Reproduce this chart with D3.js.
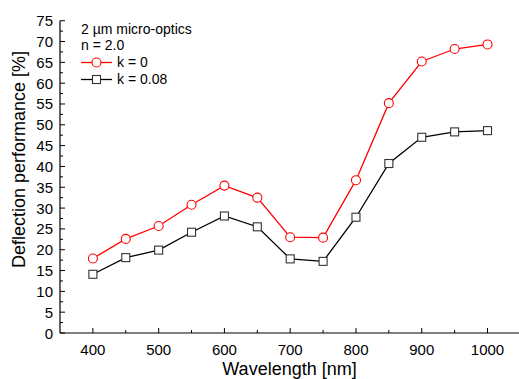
<!DOCTYPE html>
<html><head><meta charset="utf-8">
<script src="https://cdn.jsdelivr.net/npm/d3@7"></script>
<style>body{margin:0;background:#fff}svg{display:block;font-family:"Liberation Sans",Arial,sans-serif}</style>
</head><body><svg id="c" width="519" height="379"></svg>
<script>
const wavelengths = [400,450,500,550,600,650,700,750,800,850,900,950,1000];
const k0 = [17.9,22.6,25.7,30.8,35.4,32.5,23.0,22.9,36.7,55.2,65.2,68.2,69.3];
const k008 = [14.1,18.1,19.9,24.2,28.1,25.5,17.8,17.2,27.8,40.7,47.0,48.3,48.6];
const xTicks = [400,500,600,700,800,900,1000];
const yTicks = [0,5,10,15,20,25,30,35,40,45,50,55,60,65,70,75];
const legendTitle = ["2 µm micro-optics","n = 2.0"];
const seriesNames = ["k = 0","k = 0.08"];

const svg = d3.select("#c");
const x = d3.scaleLinear().domain([350,1050]).range([60,520.4]);
const y = d3.scaleLinear().domain([0,75]).range([333,20.7]);

// axes
const xAxis = svg.append("g").attr("transform","translate(0,333)");
xAxis.append("line").attr("x1",60).attr("x2",519).attr("stroke","#000").attr("stroke-width",1.2);
d3.range(400,1050,50).forEach(v=>{
  const major = v%100===0;
  xAxis.append("line").attr("x1",x(v)).attr("x2",x(v)).attr("y1",0).attr("y2",major?-5:-3).attr("stroke","#000");
});
xAxis.selectAll("text.t").data(xTicks).join("text").attr("x",d=>x(d)).attr("y",22)
  .attr("text-anchor","middle").attr("font-size",15).text(d=>d);

const yAxis = svg.append("g").attr("transform","translate(60,0)");
yAxis.append("line").attr("y1",y(0)).attr("y2",y(75)).attr("stroke","#000").attr("stroke-width",1.2);
d3.range(0,75.1,2.5).forEach(v=>{
  const major = v%5===0;
  yAxis.append("line").attr("x1",0).attr("x2",major?5:3).attr("y1",y(v)).attr("y2",y(v)).attr("stroke","#000");
});
yAxis.selectAll("text.t").data(yTicks).join("text").attr("x",-7).attr("y",d=>y(d)+5.5)
  .attr("text-anchor","end").attr("font-size",15).text(d=>d);

svg.append("text").attr("x",289.5).attr("y",375).attr("text-anchor","middle").attr("font-size",18).text("Wavelength [nm]");
svg.append("text").attr("transform","translate(24.5,159.5) rotate(-90)").attr("text-anchor","middle").attr("font-size",18).text("Deflection performance [%]");

const line = d3.line().x((d,i)=>x(wavelengths[i])).y(d=>y(d));
function drawSeries(vals,color,shape){
  svg.append("path").attr("d",line(vals)).attr("fill","none").attr("stroke",color).attr("stroke-width",1.3);
  vals.forEach((v,i)=>{
    if(shape==="circle") svg.append("circle").attr("cx",x(wavelengths[i])).attr("cy",y(v)).attr("r",4.5).attr("fill","#fff").attr("stroke",color).attr("stroke-width",1.1);
    else svg.append("rect").attr("x",x(wavelengths[i])-4).attr("y",y(v)-4).attr("width",8).attr("height",8).attr("fill","#fff").attr("stroke","#333").attr("stroke-width",1.1);
  });
}
drawSeries(k008,"#000","square");
drawSeries(k0,"#ff0000","circle");

// legend
svg.append("text").attr("x",81).attr("y",33.5).attr("font-size",14).text(legendTitle[0]);
svg.append("text").attr("x",81).attr("y",49.5).attr("font-size",14).text(legendTitle[1]);
const lg = [{c:"#ff0000",s:"circle",yy:62.5},{c:"#000",s:"square",yy:79.5}];
lg.forEach((l,i)=>{
  svg.append("line").attr("x1",81).attr("x2",112).attr("y1",l.yy).attr("y2",l.yy).attr("stroke",l.c).attr("stroke-width",1.3);
  if(l.s==="circle") svg.append("circle").attr("cx",96.5).attr("cy",l.yy).attr("r",4.5).attr("fill","#fff").attr("stroke",l.c).attr("stroke-width",1.1);
  else svg.append("rect").attr("x",92.5).attr("y",l.yy-4).attr("width",8).attr("height",8).attr("fill","#fff").attr("stroke","#333").attr("stroke-width",1.1);
  svg.append("text").attr("x",117).attr("y",l.yy+4.5).attr("font-size",14).text(seriesNames[i]);
});
</script></body></html>
